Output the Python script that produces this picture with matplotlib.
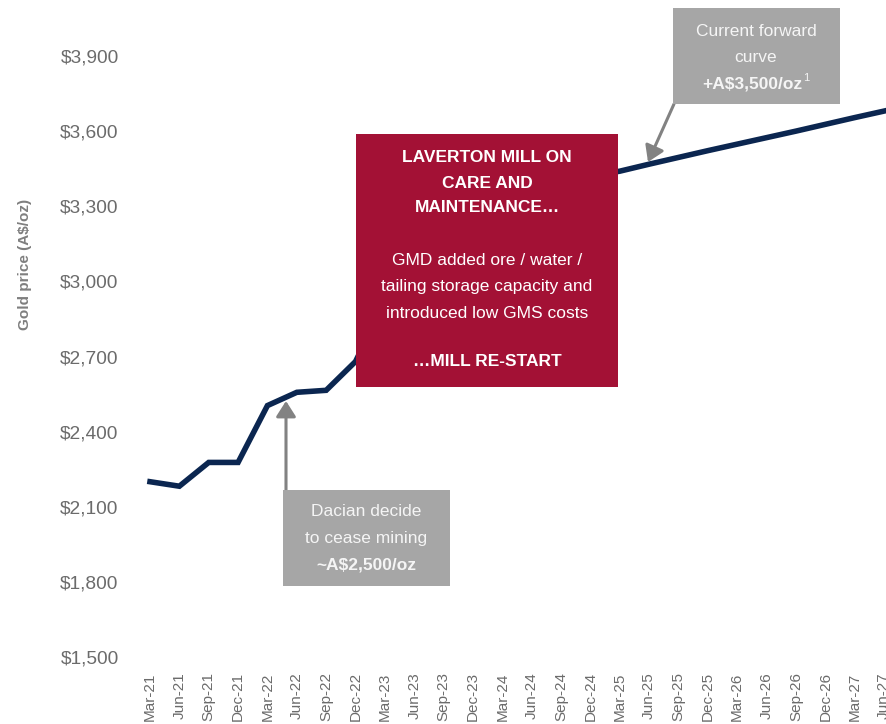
import matplotlib
matplotlib.use('Agg')
import matplotlib.pyplot as plt
import matplotlib.patches as patches
from matplotlib import font_manager

matplotlib.rc('font', family=['Liberation Sans', 'DejaVu Sans'])

quarters = ['Mar-21', 'Jun-21', 'Sep-21', 'Dec-21', 'Mar-22', 'Jun-22', 'Sep-22', 'Dec-22',
            'Mar-23', 'Jun-23', 'Sep-23', 'Dec-23', 'Mar-24', 'Jun-24', 'Sep-24', 'Dec-24',
            'Mar-25', 'Jun-25', 'Sep-25', 'Dec-25', 'Mar-26', 'Jun-26', 'Sep-26', 'Dec-26',
            'Mar-27', 'Jun-27']
gold_price = [2200, 2182, 2277, 2277, 2504, 2557, 2565, 2680,
              2920, 2880, 2900, 3050, 3200, 3400, 3500, 3420,
              3440, 3468, 3495, 3522, 3548, 3574, 3600, 3627,
              3654, 3680]
yticks = [1500, 1800, 2100, 2400, 2700, 3000, 3300, 3600, 3900]

W, H = 886, 724
navy = '#0B2650'
crimson = '#A31135'
grey_box = '#A6A6A6'
arrow_grey = '#828282'
tick_grey = '#6B6B6B'
box_text = '#F5F5F5'

names = set(f.name for f in font_manager.fontManager.ttflist)
narrow = 'Liberation Sans Narrow' in names


def fx(x):
    return x / W


def fy(y):
    return 1 - y / H


def lines(x, rows, color, size=12.5):
    # rows: (text, y pixel, bold)
    for txt, y, bold in rows:
        fig.text(fx(x), fy(y), txt, ha='center', va='center', fontsize=size,
                 fontweight='bold' if bold else 'normal', color=color, zorder=6)


fig = plt.figure(figsize=(W / 100, H / 100), dpi=100)
step = (884 - 150) / 25.0
left_px = 150 - 0.5 * step
ax = fig.add_axes([fx(left_px), fy(657), fx(W - left_px), (657 - 56) / H])

x = list(range(len(quarters)))
ax.plot(x, gold_price, color=navy, lw=4.0, solid_joinstyle='miter', zorder=3, clip_on=False)

ax.set_xlim(-0.5, -0.5 + (W - left_px) / step)
ax.set_ylim(1500, 3900)
ax.set_yticks(yticks)
ax.set_yticklabels(['${:,}'.format(v) for v in yticks])
ax.set_xticks(x)
ax.set_xticklabels(quarters, rotation=90, va='top')
ax.tick_params(axis='y', length=0, pad=12, labelsize=13.8, labelcolor=tick_grey)
ax.tick_params(axis='x', length=0, pad=11, labelsize=11, labelcolor=tick_grey)
for s in ax.spines.values():
    s.set_visible(False)

if narrow:
    fig.text(fx(25), fy(264), 'Gold price (A$/oz)', rotation=90, ha='center', va='center',
             fontsize=12.5, fontweight='bold', color='#7F7F7F', family='Liberation Sans Narrow')
else:
    fig.text(fx(25), fy(264), 'Gold price (A$/oz)', rotation=90, ha='center', va='center',
             fontsize=11, fontweight='bold', color='#7F7F7F')

# red box
ax.add_patch(patches.Rectangle((fx(356), fy(387)), fx(618) - fx(356), fy(134) - fy(387),
                               transform=fig.transFigure, facecolor=crimson, edgecolor='none',
                               zorder=5, clip_on=False))
lines(487, [('LAVERTON MILL ON', 158, True),
            ('CARE AND', 183, True),
            ('MAINTENANCE\u2026', 208, True),
            ('GMD added ore / water /', 261, False),
            ('tailing storage capacity and', 287, False),
            ('introduced low GMS costs', 313, False),
            ('\u2026MILL RE-START', 362, True)], 'white')

# grey box - Dacian
ax.add_patch(patches.Rectangle((fx(283), fy(586)), fx(450) - fx(283), fy(490) - fy(586),
                               transform=fig.transFigure, facecolor=grey_box, edgecolor='none',
                               zorder=5, clip_on=False))
lines(366.5, [('Dacian decide', 512, False),
              ('to cease mining', 539, False),
              ('~A$2,500/oz', 565, True)], box_text)

# grey box - forward curve
ax.add_patch(patches.Rectangle((fx(673), fy(104)), fx(840) - fx(673), fy(8) - fy(104),
                               transform=fig.transFigure, facecolor=grey_box, edgecolor='none',
                               zorder=5, clip_on=False))
lines(756, [('Current forward', 31, False),
            ('curve', 58, False)], box_text)
fig.text(fx(752), fy(84), '+A$3,500/oz', ha='center', va='center', fontsize=12.5,
         fontweight='bold', color=box_text, zorder=6)
fig.text(fx(803), fy(78), '1', ha='left', va='center', fontsize=8, color=box_text, zorder=6)

arrow = dict(arrowstyle='-|>,head_length=0.47,head_width=0.3', lw=2.2, color=arrow_grey,
             mutation_scale=20, shrinkA=0, shrinkB=0)
ax.annotate('', xy=(fx(286), fy(401)), xytext=(fx(286), fy(490)),
            xycoords='figure fraction', textcoords='figure fraction', arrowprops=arrow, zorder=4)
ax.annotate('', xy=(fx(648), fy(162)), xytext=(fx(674), fy(104)),
            xycoords='figure fraction', textcoords='figure fraction', arrowprops=arrow, zorder=4)

fig.savefig('out.png', dpi=100)
